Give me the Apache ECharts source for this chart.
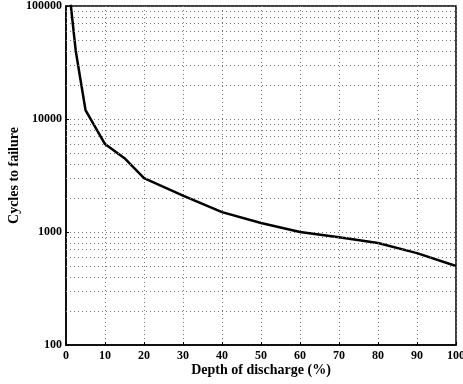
<!DOCTYPE html>
<html><head><meta charset="utf-8">
<script src="https://cdn.jsdelivr.net/npm/echarts@6/dist/echarts.min.js"></script>
<style>html,body{margin:0;padding:0;background:#fff}#c{width:463px;height:384px}</style>
</head><body><div id="c"></div>
<script>
const depth = [1, 2.5, 5, 10, 15, 20, 30, 40, 50, 60, 70, 80, 90, 100];
const cycles = [120000, 40000, 12000, 6000, 4500, 3000, 2100, 1500, 1200, 1000, 900, 800, 650, 500];
const xTicks = [0, 10, 20, 30, 40, 50, 60, 70, 80, 90, 100];
const minorGridValues = [200,300,400,500,600,700,800,900,2000,3000,4000,5000,6000,7000,8000,9000,20000,30000,40000,50000,60000,70000,80000,90000];
const xTitle = 'Depth of discharge (%)';
const yTitle = 'Cycles to failure';

const font = 'Liberation Serif, Times New Roman, serif';
const dotted = {color: '#777', width: 1, type: [1, 3]};
const chart = echarts.init(document.getElementById('c'));
chart.setOption({
  animation: false,
  grid: {left: 66, right: 7, top: 6, bottom: 39, containLabel: false, outerBoundsMode: 'none',
    show: true, borderColor: '#000', borderWidth: 1.5, backgroundColor: 'transparent'},
  xAxis: {
    type: 'value', min: 0, max: 100, interval: 10,
    name: xTitle, nameLocation: 'middle', nameGap: 18, nameMoveOverlap: false,
    nameTextStyle: {fontFamily: font, fontWeight: 'bold', fontSize: 14, color: '#000'},
    axisLine: {show: true, lineStyle: {color: '#000', width: 1.5}},
    axisTick: {show: true, inside: true, length: 3, lineStyle: {color: '#000'}},
    axisLabel: {fontFamily: font, fontWeight: 'bold', fontSize: 12, color: '#000', margin: 5,
      formatter: v => xTicks.includes(v) ? String(v) : ''},
    splitLine: {show: true, lineStyle: dotted}
  },
  yAxis: {
    type: 'log', logBase: 10, min: 100, max: 100000,
    name: yTitle, nameLocation: 'middle', nameGap: 45, nameMoveOverlap: false,
    nameTextStyle: {fontFamily: font, fontWeight: 'bold', fontSize: 14, color: '#000'},
    axisLine: {show: true, lineStyle: {color: '#000', width: 1.5}},
    axisTick: {show: true, inside: true, length: 3, lineStyle: {color: '#000'}},
    axisLabel: {fontFamily: font, fontWeight: 'bold', fontSize: 12, color: '#000', margin: 4,
      formatter: v => String(Math.round(v))},
    splitLine: {show: true, lineStyle: dotted}
  },
  series: [{
    type: 'line',
    data: depth.map((d, i) => [d, cycles[i]]),
    showSymbol: false,
    clip: true,
    lineStyle: {color: '#000', width: 2.5},
    markLine: {
      silent: true, symbol: 'none', label: {show: false},
      lineStyle: dotted,
      data: minorGridValues.map(v => ({yAxis: v}))
    }
  }]
});
</script></body></html>
